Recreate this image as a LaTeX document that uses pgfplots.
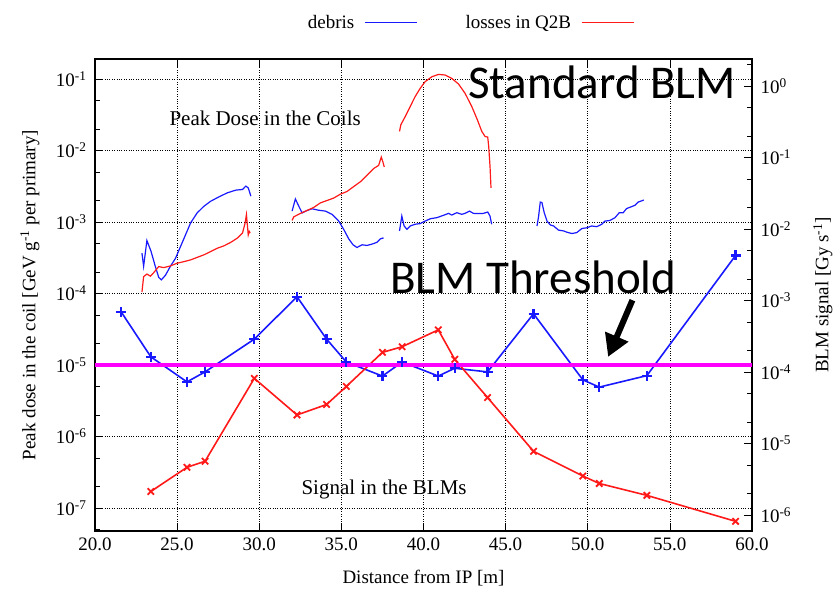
\documentclass[border=0pt]{standalone}
\usepackage{fontspec}
\setmainfont{Liberation Serif}
\newfontfamily\calibri{Carlito}
\usepackage{pgfplots}
\pgfplotsset{compat=1.18}
\usetikzlibrary{arrows.meta}

\definecolor{dblue}{RGB}{25,25,255}
\definecolor{lred}{RGB}{255,25,25}
\definecolor{thr}{RGB}{255,0,255}

\newcommand{\pw}[1]{\textrm{10\textsuperscript{#1}}}

\begin{document}
\begin{tikzpicture}
\useasboundingbox (-95pt,-59pt) rectangle (741pt,531pt);
\pgfplotsset{
  every axis/.append style={
    scale only axis, width=657pt, height=472pt,
    at={(0pt,0pt)}, anchor=south west,
    font=\fontsize{19}{22}\selectfont,
    ymode=log, xmin=20, xmax=60,
    major tick length=8pt, minor tick length=5pt,
    tick style={black, line width=0.6pt},
    axis line style={line width=1.2pt},
  }
}
% right-hand scale: BLM signal
\begin{axis}[
  ymin=5.97e-7, ymax=2.387,
  xtick=\empty,
  ytick pos=right, yticklabel pos=right,
  ytick={1e-6,1e-5,1e-4,1e-3,1e-2,1e-1,1},
  yticklabels={\pw{-6},\pw{-5},\pw{-4},\pw{-3},\pw{-2},\pw{-1},\pw{0}},
  minor ytick={2e-6,5e-6,2e-5,5e-5,2e-4,5e-4,2e-3,5e-3,2e-2,5e-2,2e-1,5e-1,2},
  yticklabel style={xshift=5pt},
  ylabel={BLM signal [Gy s\textsuperscript{-1}]},
  ylabel style={at={(axis description cs:1.108,0.5)}, anchor=center, rotate=0},
]
\end{axis}
% left-hand scale: peak dose
\begin{axis}[
  ymin=4.76e-8, ymax=0.1905,
  xtick={20,25,...,60},
  xticklabels={\textrm{20.0},\textrm{25.0},\textrm{30.0},\textrm{35.0},\textrm{40.0},\textrm{45.0},\textrm{50.0},\textrm{55.0},\textrm{60.0}},
  xtick pos=both, xticklabel pos=bottom, ytick pos=left,
  ytick={1e-7,1e-6,1e-5,1e-4,1e-3,1e-2,1e-1},
  yticklabels={\pw{-7},\pw{-6},\pw{-5},\pw{-4},\pw{-3},\pw{-2},\pw{-1}},
  minor ytick={5e-8,2e-7,5e-7,2e-6,5e-6,2e-5,5e-5,2e-4,5e-4,2e-3,5e-3,2e-2,5e-2},
  yticklabel style={xshift=-5pt},
  xticklabel style={yshift=-3pt},
  grid=major, major grid style={black, dotted, line width=0.5pt},
  xlabel={Distance from IP [m]},
  xlabel style={at={(axis description cs:0.5,-0.1)}, anchor=center},
  ylabel={Peak dose in the coil [GeV g\textsuperscript{-1} per primary]},
  ylabel style={at={(axis description cs:-0.099,0.5)}, anchor=center},
  legend plot pos=right,
  legend columns=2,
  legend image code/.code={\draw[#1] (0pt,0pt) -- (52pt,0pt);},
  legend style={at={(axis description cs:0.571,1.078)}, anchor=center,
    draw=none, fill=none, font=\fontsize{19}{22}\selectfont,
    /tikz/every odd column/.append style={column sep=8pt},
    /tikz/every even column/.append style={column sep=46pt}},
]
% dose in the coils, debris
\addplot[dblue, line width=1.2pt] coordinates {
(22.86,3.66e-4) (22.96,2.4e-4) (23.16,5.5e-4) (23.41,3.9e-4) (23.67,2.4e-4)
(23.88,1.68e-4) (24.04,1.55e-4) (24.29,1.8e-4) (24.59,2.4e-4) (24.9,3.1e-4)
(25.2,4.5e-4) (25.51,6.6e-4) (25.82,9.7e-4) (26.22,1.34e-3) (26.63,1.66e-3)
(27.04,1.95e-3) (27.55,2.25e-3) (28.06,2.56e-3) (28.57,2.79e-3) (28.98,2.85e-3)
(29.18,3.18e-3) (29.33,3.0e-3) (29.49,2.3e-3)};
\addlegendentry{debris}
% dose in the coils, losses in Q2B
\addplot[lred, line width=1.2pt] coordinates {
(22.86,1.05e-4) (22.96,1.72e-4) (23.16,1.87e-4) (23.37,1.75e-4) (23.57,1.95e-4)
(23.88,2.38e-4) (24.18,2.3e-4) (24.59,2.43e-4) (25.0,2.65e-4) (25.41,2.79e-4)
(25.82,2.95e-4) (26.22,3.2e-4) (26.63,3.47e-4) (27.04,3.86e-4) (27.45,4.3e-4)
(27.86,4.65e-4) (28.27,5.2e-4) (28.67,5.96e-4) (28.98,7.0e-4) (29.14,9.7e-4)
(29.22,1.27e-3) (29.33,6.6e-4) (29.39,7.4e-4) (29.45,7.0e-4)};
\addlegendentry{losses in Q2B}
\addplot[dblue, line width=1.2pt, forget plot] coordinates {
(32.0,1.42e-3) (32.2,2.1e-3) (32.41,1.66e-3) (32.61,1.34e-3) (32.91,1.45e-3)
(33.22,1.53e-3) (33.62,1.46e-3) (34.03,1.42e-3) (34.43,1.28e-3) (34.84,1.03e-3)
(35.14,7.9e-4) (35.45,5.8e-4) (35.71,4.8e-4) (35.95,4.4e-4) (36.26,4.8e-4)
(36.56,4.7e-4) (36.86,4.9e-4) (37.17,5.2e-4) (37.37,5.8e-4) (37.57,6.0e-4)};
\addplot[lred, line width=1.2pt, forget plot] coordinates {
(32.0,1.05e-3) (32.1,1.18e-3) (32.51,1.32e-3) (32.91,1.45e-3) (33.32,1.6e-3)
(33.72,1.85e-3) (34.13,2.0e-3) (34.53,2.16e-3) (34.94,2.45e-3) (35.34,2.67e-3)
(35.75,3.13e-3) (36.16,3.66e-3) (36.56,4.5e-3) (36.97,5.6e-3) (37.27,6.2e-3)
(37.43,8.1e-3) (37.53,6.9e-3) (37.61,5.9e-3)};
\addplot[dblue, line width=1.2pt, forget plot] coordinates {
(38.54,7.5e-4) (38.68,1.21e-3) (38.82,8.8e-4) (38.99,7.9e-4) (39.19,8.8e-4)
(39.49,9.3e-4) (39.8,9.5e-4) (40.1,1.03e-3) (40.41,1.11e-3) (40.81,1.15e-3)
(41.22,1.24e-3) (41.52,1.32e-3) (41.72,1.25e-3) (42.03,1.35e-3) (42.33,1.28e-3)
(42.53,1.32e-3) (42.8,1.42e-3) (43.04,1.32e-3) (43.34,1.31e-3) (43.65,1.32e-3)
(43.91,1.38e-3) (44.05,1.21e-3) (44.15,9.3e-4)};
\addplot[lred, line width=1.2pt, forget plot] coordinates {
(38.54,1.85e-2) (38.62,2.29e-2) (38.89,2.99e-2) (39.19,4.12e-2) (39.49,5.67e-2)
(39.8,7.41e-2) (40.1,9.18e-2) (40.51,0.1076) (40.91,0.116) (41.32,0.1137)
(41.72,0.102) (42.13,0.0852) (42.53,0.0631) (42.94,0.0412) (43.28,0.0269)
(43.55,0.0185) (43.75,0.0157) (43.91,0.0154) (43.97,0.0114) (44.05,6.03e-3)
(44.11,3.0e-3)};
\addplot[dblue, line width=1.2pt, forget plot] coordinates {
(46.91,8.8e-4) (47.01,1.21e-3) (47.11,1.9e-3) (47.21,1.87e-3) (47.35,1.35e-3)
(47.52,1.03e-3) (47.72,9.1e-4) (47.92,8.8e-4) (48.22,7.7e-4) (48.53,7.5e-4)
(48.73,7.2e-4) (49.03,6.9e-4) (49.33,7.1e-4) (49.64,8.1e-4) (49.94,8.3e-4)
(50.24,8.8e-4) (50.55,8.6e-4) (50.85,9.3e-4) (51.05,1.03e-3) (51.35,1.05e-3)
(51.66,1.15e-3) (51.92,1.35e-3) (52.16,1.35e-3) (52.36,1.54e-3) (52.67,1.64e-3)
(52.87,1.71e-3) (53.07,1.9e-3) (53.27,1.97e-3) (53.41,2.03e-3)};
% signal in the BLMs, debris
\addplot[dblue, line width=1.6pt, mark=+, mark size=5pt,
  mark options={line width=2.2pt}, forget plot] coordinates {
(21.6,5.5e-5) (23.4,1.3e-5) (25.6,5.8e-6) (26.7,8e-6) (29.7,2.3e-5)
(32.3,9e-5) (34.1,2.3e-5) (35.3,1.1e-5) (37.5,7e-6) (38.7,1.1e-5)
(40.9,7e-6) (41.9,9e-6) (43.9,8e-6) (46.7,5.2e-5) (49.7,6.2e-6)
(50.7,4.9e-6) (53.6,7.1e-6) (59.0,3.4e-4)};
% signal in the BLMs, losses in Q2B
\addplot[lred, line width=1.6pt, mark=x, mark size=4.5pt,
  mark options={line width=1.8pt}, forget plot] coordinates {
(23.4,1.7e-7) (25.6,3.7e-7) (26.7,4.5e-7) (29.7,6.5e-6) (32.3,2e-6)
(34.1,2.8e-6) (35.3,5e-6) (37.5,1.5e-5) (38.7,1.8e-5) (40.9,3.1e-5)
(41.9,1.2e-5) (43.9,3.5e-6) (46.7,6.2e-7) (49.7,2.8e-7) (50.7,2.2e-7)
(53.6,1.5e-7) (59.0,6.5e-8)};
% BLM threshold
\addplot[thr, line width=3.5pt, forget plot] coordinates {(20,1e-5) (60,1e-5)};

\node[font=\fontsize{21}{24}\selectfont] at (rel axis cs:0.259,0.875) {Peak Dose in the Coils};
\node[font=\fontsize{21}{24}\selectfont] at (rel axis cs:0.44,0.087) {Signal in the BLMs};
\node[anchor=base west, inner sep=0pt, font=\calibri\fontsize{47}{50}\selectfont]
  at (rel axis cs:0.5677,0.917) {Standard BLM};
\node[anchor=base west, inner sep=0pt, font=\calibri\fontsize{47}{50}\selectfont]
  at (rel axis cs:0.449,0.504) {BLM Threshold};
\draw[black, line width=6pt, -{Triangle[length=22pt,width=24pt]}]
  (rel axis cs:0.818,0.489) -- (rel axis cs:0.781,0.369);
\end{axis}
\end{tikzpicture}
\end{document}
